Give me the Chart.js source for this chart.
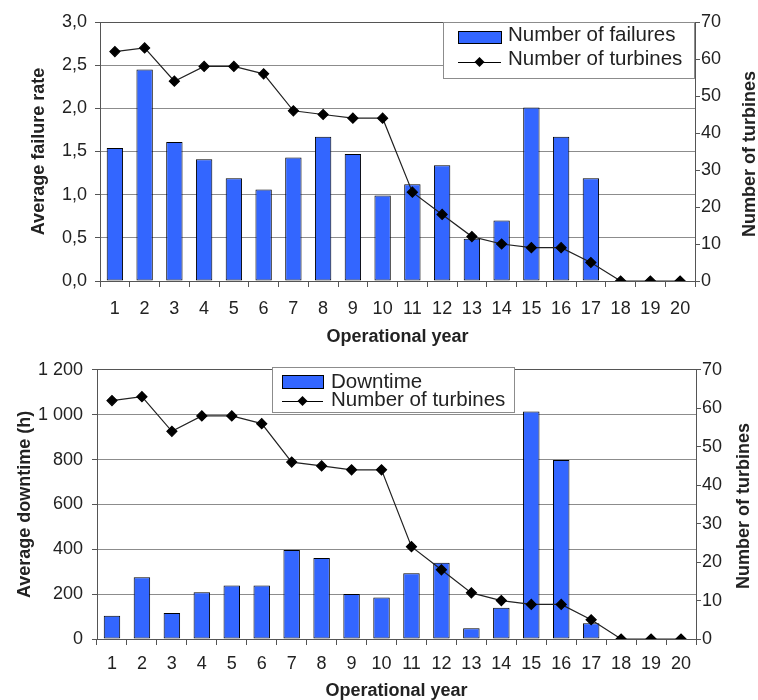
<!DOCTYPE html>
<html>
<head>
<meta charset="utf-8">
<script src="https://cdn.jsdelivr.net/npm/chart.js@4"></script>
<style>
  body { margin: 0; background: #fff; }
  canvas { display: block; }
</style>
</head>
<body>
<canvas id="chart-failures" width="758" height="350"></canvas>
<canvas id="chart-downtime" width="758" height="350"></canvas>
<script>
const years = ["1", "2", "3", "4", "5", "6", "7", "8", "9", "10",
  "11", "12", "13", "14", "15", "16", "17", "18", "19", "20"];
const failureRate = [1.54, 2.45, 1.61, 1.41, 1.19, 1.06, 1.43, 1.67, 1.47, 0.99,
  1.12, 1.34, 0.49, 0.70, 2.01, 1.67, 1.19, 0, 0, 0];
const downtime = [104, 275, 116, 208, 239, 239, 397, 361, 201, 185,
  293, 340, 48, 139, 1014, 798, 70, 0, 0, 0];
const turbines = [62, 63, 54, 58, 58, 56, 46, 45, 44, 44,
  24, 18, 12, 10, 9, 9, 5, 0, 0, 0];

const colors = {
  bar: "#3366FF",
  line: "#000000",
  grid: "#8c8c8c",
  border: "#555555",
  text: "#222222",
};
const family = '"Liberation Sans", Arial, sans-serif';

// legend box drawn inside the plot, like the Excel original
const boxLegend = {
  id: "boxLegend",
  afterDatasetsDraw(chart, args, o) {
    const ctx = chart.ctx;
    const [bar, line] = chart.data.datasets;
    ctx.save();
    ctx.fillStyle = "#fff";
    ctx.fillRect(o.x, o.y, o.w, o.h);
    ctx.strokeStyle = "#8c8c8c";
    ctx.lineWidth = 1;
    ctx.strokeRect(o.x + 0.5, o.y + 0.5, o.w, o.h);

    ctx.fillStyle = colors.bar;
    ctx.fillRect(o.sx, o.sy, o.sw, o.sh);
    ctx.strokeStyle = "#000";
    ctx.strokeRect(o.sx + 0.5, o.sy + 0.5, o.sw, o.sh);

    ctx.beginPath();
    ctx.moveTo(o.sx, o.ly + 0.5);
    ctx.lineTo(o.sx + o.sw, o.ly + 0.5);
    ctx.stroke();
    const cx = o.sx + o.sw / 2;
    ctx.fillStyle = "#000";
    ctx.beginPath();
    ctx.moveTo(cx, o.ly - 5);
    ctx.lineTo(cx + 5, o.ly);
    ctx.lineTo(cx, o.ly + 5);
    ctx.lineTo(cx - 5, o.ly);
    ctx.closePath();
    ctx.fill();

    ctx.font = o.fontSize + "px " + family;
    ctx.fillStyle = colors.text;
    ctx.textBaseline = "alphabetic";
    ctx.fillText(bar.label, o.tx, o.b1);
    ctx.fillText(line.label, o.tx, o.b2);
    ctx.restore();
  },
};

// right axis title reads bottom to top in the original
const sideTitle = {
  id: "sideTitle",
  afterDraw(chart, args, o) {
    const ctx = chart.ctx;
    ctx.save();
    ctx.translate(o.x, o.y);
    ctx.rotate(-Math.PI / 2);
    ctx.font = "bold 18px " + family;
    ctx.fillStyle = colors.text;
    ctx.textAlign = "center";
    ctx.textBaseline = "middle";
    ctx.fillText(o.text, 0, 0);
    ctx.restore();
  },
};

function buildConfig(opts) {
  return {
    type: "bar",
    data: {
      labels: years,
      datasets: [
        {
          type: "bar",
          label: opts.barLabel,
          data: opts.barData,
          yAxisID: "y",
          backgroundColor: colors.bar,
          borderColor: "#000",
          borderWidth: (c) => (c.raw ? 1 : 0),
          borderSkipped: false,
          barPercentage: 0.55,
          categoryPercentage: 1,
          order: 2,
        },
        {
          type: "line",
          label: "Number of turbines",
          data: turbines,
          yAxisID: "y1",
          borderColor: "#222",
          borderWidth: 1.2,
          pointStyle: "rectRot",
          pointRadius: 5,
          pointBackgroundColor: "#000",
          pointBorderColor: "#000",
          tension: 0,
          order: 1,
        },
      ],
    },
    options: {
      responsive: false,
      animation: false,
      devicePixelRatio: 1,
      layout: { padding: { top: opts.top, left: 0, right: 0, bottom: 0 } },
      plugins: {
        legend: { display: false },
        tooltip: { enabled: false },
        boxLegend: opts.legend,
        sideTitle: { text: "Number of turbines", x: opts.rightTitleX, y: opts.rightTitleY },
      },
      scales: {
        x: {
          offset: true,
          grid: {
            offset: true,
            drawOnChartArea: false,
            color: colors.border,
            tickLength: 6,
          },
          border: { color: colors.border },
          ticks: {
            color: colors.text,
            font: { family: family, size: 18 },
            padding: opts.xTickPad,
            maxRotation: 0,
            autoSkip: false,
          },
          title: {
            display: true,
            text: "Operational year",
            color: colors.text,
            font: { family: family, size: 18, weight: "bold" },
            padding: { top: 0, bottom: opts.xTitlePad },
          },
          afterFit: (s) => { s.height = opts.xHeight; },
        },
        y: {
          position: "left",
          min: 0,
          max: opts.max,
          ticks: {
            stepSize: opts.step,
            color: colors.text,
            font: { family: family, size: 18 },
            padding: opts.tickPad,
            callback: opts.format,
          },
          grid: {
            color: (c) => (c.tick && c.tick.value === opts.max ? colors.border : colors.grid),
            tickColor: colors.border,
            tickLength: 5,
          },
          border: { color: colors.border },
          title: {
            display: true,
            text: opts.yTitle,
            color: colors.text,
            font: { family: family, size: 18, weight: "bold" },
            padding: { top: opts.yTitlePad, bottom: 0 },
          },
          afterFit: (s) => { s.width = opts.leftWidth; },
        },
        y1: {
          position: "right",
          min: 0,
          max: 70,
          ticks: {
            stepSize: 10,
            color: colors.text,
            font: { family: family, size: 18 },
            padding: 1,
          },
          grid: { drawOnChartArea: false, color: colors.border, tickLength: 5 },
          border: { color: colors.border },
          afterFit: (s) => { s.width = opts.rightWidth; },
        },
      },
    },
    plugins: [boxLegend, sideTitle],
  };
}

function renderChartFailures() {
  const config = buildConfig({
    barLabel: "Number of failures",
    barData: failureRate,
    max: 3,
    step: 0.5,
    format: (v) => v.toFixed(1).replace(".", ","),
    yTitle: "Average failure rate",
    top: 22,
    leftWidth: 100,
    rightWidth: 63,
    xHeight: 69,
    tickPad: 8,
    xTickPad: 11,
    yTitlePad: 28,
    xTitlePad: 2,
    rightTitleX: 750,
    rightTitleY: 154,
    legend: {
      x: 443, y: 22, w: 251, h: 56,
      sx: 458, sy: 31, sw: 43, sh: 12,
      ly: 62, tx: 508, b1: 41, b2: 65, fontSize: 20.5,
    },
  });
  new Chart(document.getElementById("chart-failures"), config);
}

function renderChartDowntime() {
  const config = buildConfig({
    barLabel: "Downtime",
    barData: downtime,
    max: 1200,
    step: 200,
    format: (v) => (v >= 1000 ? Math.floor(v / 1000) + " " + String(v % 1000).padStart(3, "0") : String(v)),
    yTitle: "Average downtime (h)",
    top: 17,
    leftWidth: 97,
    rightWidth: 62,
    xHeight: 61,
    tickPad: 9,
    xTickPad: 8,
    yTitlePad: 14,
    xTitlePad: -2,
    rightTitleX: 744,
    rightTitleY: 156,
    legend: {
      x: 272, y: 17, w: 242, h: 45,
      sx: 282, sy: 25, sw: 41, sh: 13,
      ly: 51, tx: 331, b1: 38, b2: 56, fontSize: 20.5,
    },
  });
  new Chart(document.getElementById("chart-downtime"), config);
}

renderChartFailures();
renderChartDowntime();
</script>
</body>
</html>
